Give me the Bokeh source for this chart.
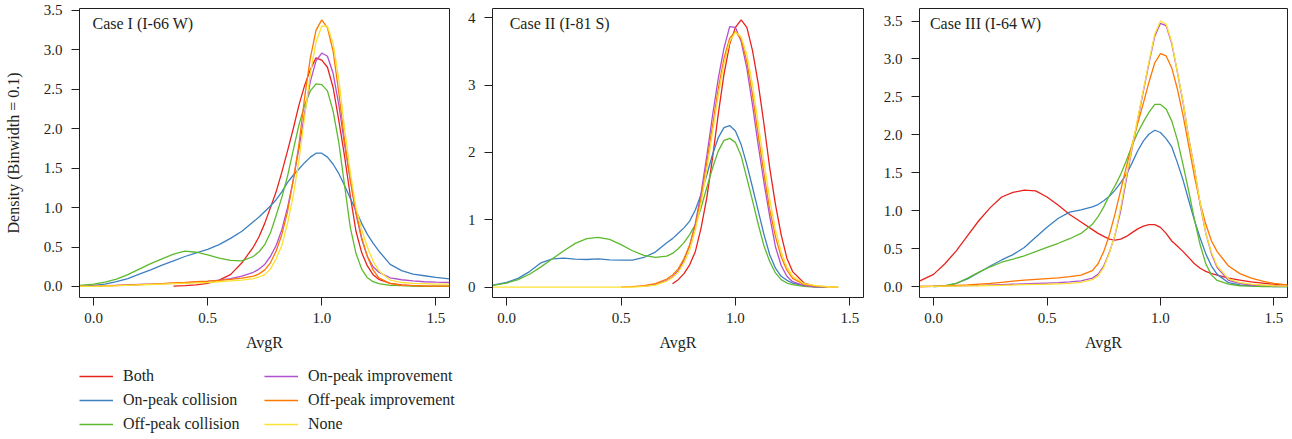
import numpy as np
from bokeh.plotting import figure
from bokeh.models import (Range1d, FixedTicker, PrintfTickFormatter, Label,
                          Legend, LegendItem, ColumnDataSource)
from bokeh.layouts import row, column
from bokeh.embed import file_html
from bokeh.resources import INLINE

N = None

# ---------------- data ----------------
AVGR = [-0.06, 0.0, 0.05, 0.1, 0.15, 0.2, 0.25, 0.3, 0.35, 0.4, 0.45, 0.5, 0.55, 0.6, 0.65, 0.7,
        0.725, 0.75, 0.775, 0.8, 0.825, 0.85, 0.875, 0.9, 0.925, 0.95, 0.975, 1.0, 1.025, 1.05, 1.075,
        1.1, 1.125, 1.15, 1.175, 1.2, 1.225, 1.25,
        1.3, 1.35, 1.4, 1.45, 1.5, 1.56]

SERIES = ["Both", "On-peak collision", "Off-peak collision",
          "On-peak improvement", "Off-peak improvement", "None"]
COLORS = ["#E8221C", "#3D80C1", "#5DB92E", "#B150CF", "#FF7700", "#FBE232"]

CASES = ["Case I (I-66 W)", "Case II (I-81 S)", "Case III (I-64 W)"]

# Case I
c1_both = [N, N, N, N, N, N, N, N, 0.005, 0.01, 0.02, 0.04, 0.08, 0.15, 0.3, 0.5,
           0.63, 0.8, 1.0, 1.2, 1.45, 1.72, 2.0, 2.3, 2.55, 2.75, 2.9, 2.87, 2.78, 2.52, 2.1, 1.65, 1.15, 0.7, 0.43, 0.26, 0.15, 0.09,
           0.04, 0.02, 0.01, 0.005, 0.0, 0.0]
c1_oncol = [0.0, 0.013, 0.03, 0.06, 0.1, 0.157, 0.21, 0.27, 0.325, 0.38, 0.425, 0.47, 0.53, 0.61, 0.7, 0.82,
            0.88, 0.95, 1.02, 1.1, 1.2, 1.32, 1.41, 1.49, 1.57, 1.64, 1.69, 1.69, 1.64, 1.55, 1.43, 1.28, 1.12, 0.96, 0.8, 0.66, 0.55, 0.45,
            0.28, 0.2, 0.157, 0.136, 0.114, 0.095]
c1_offcol = [0.015, 0.03, 0.055, 0.094, 0.15, 0.22, 0.29, 0.35, 0.41, 0.447, 0.434, 0.4, 0.36, 0.33, 0.325, 0.38,
             0.44, 0.53, 0.68, 0.9, 1.13, 1.4, 1.73, 2.05, 2.3, 2.48, 2.57, 2.56, 2.48, 2.22, 1.82, 1.28, 0.75, 0.42, 0.22, 0.11, 0.06, 0.035,
             0.015, 0.01, 0.005, 0.0, 0.0, 0.0]
c1_onimp = [0.0, 0.005, 0.01, 0.015, 0.02, 0.025, 0.03, 0.035, 0.04, 0.045, 0.055, 0.065, 0.08, 0.1, 0.13, 0.18,
            0.22, 0.28, 0.38, 0.52, 0.72, 1.0, 1.35, 1.75, 2.2, 2.6, 2.86, 2.96, 2.92, 2.7, 2.3, 1.8, 1.35, 0.92, 0.6, 0.38, 0.25, 0.18,
            0.11, 0.085, 0.07, 0.06, 0.055, 0.05]
c1_offimp = [0.0, 0.003, 0.008, 0.012, 0.018, 0.024, 0.03, 0.037, 0.045, 0.052, 0.06, 0.068, 0.078, 0.09, 0.105, 0.13,
             0.16, 0.21, 0.3, 0.45, 0.66, 0.95, 1.35, 1.8, 2.4, 2.9, 3.25, 3.38, 3.28, 2.98, 2.45, 1.85, 1.35, 0.95, 0.62, 0.38, 0.21, 0.11,
             0.035, 0.015, 0.01, 0.005, 0.005, 0.005]
c1_none = [0.0, 0.002, 0.006, 0.01, 0.015, 0.02, 0.025, 0.03, 0.035, 0.04, 0.045, 0.05, 0.06, 0.07, 0.08, 0.1,
           0.12, 0.15, 0.22, 0.35, 0.52, 0.8, 1.15, 1.6, 2.15, 2.7, 3.1, 3.3, 3.3, 3.08, 2.62, 2.0, 1.45, 1.0, 0.72, 0.5, 0.32, 0.2,
           0.08, 0.05, 0.04, 0.035, 0.03, 0.03]

# Case II
c2_both = [N, N, N, N, N, N, N, N, N, N, N, N, N, N, N, N,
           0.05, 0.11, 0.2, 0.33, 0.53, 0.88, 1.33, 1.92, 2.57, 3.16, 3.61, 3.86, 3.97, 3.86, 3.51, 3.02, 2.42, 1.77, 1.23, 0.78, 0.43, 0.23,
           0.06, 0.01, N, N, N, N]
c2_oncol = [0.03, 0.07, 0.13, 0.23, 0.36, 0.42, 0.43, 0.415, 0.41, 0.42, 0.405, 0.4, 0.4, 0.44, 0.52, 0.66,
            0.72, 0.8, 0.88, 0.98, 1.15, 1.38, 1.67, 1.97, 2.22, 2.37, 2.4, 2.32, 2.12, 1.82, 1.48, 1.13, 0.78, 0.48, 0.28, 0.16, 0.1, 0.06,
            0.02, 0.005, 0.0, N, N, N]
c2_offcol = [0.025, 0.06, 0.11, 0.19, 0.3, 0.42, 0.54, 0.65, 0.72, 0.74, 0.71, 0.63, 0.54, 0.47, 0.44, 0.46,
             0.5, 0.57, 0.66, 0.78, 0.93, 1.18, 1.48, 1.77, 2.02, 2.18, 2.21, 2.15, 1.95, 1.62, 1.28, 0.93, 0.61, 0.38, 0.21, 0.11, 0.06, 0.035,
             0.01, 0.0, 0.0, N, N, N]
c2_onimp = [N, N, N, N, N, N, N, N, N, N, N, N, N, 0.01, 0.04, 0.1,
            0.15, 0.24, 0.4, 0.62, 0.95, 1.4, 1.95, 2.55, 3.1, 3.55, 3.87, 3.86, 3.65, 3.25, 2.7, 2.1, 1.55, 1.05, 0.6, 0.32, 0.16, 0.08,
            0.02, 0.005, 0.0, N, N, N]
c2_offimp = [N, N, N, N, N, N, N, N, N, N, N, 0.0, 0.008, 0.02, 0.05, 0.12,
             0.18, 0.27, 0.42, 0.62, 0.92, 1.32, 1.85, 2.4, 2.95, 3.4, 3.7, 3.8, 3.68, 3.35, 2.85, 2.25, 1.68, 1.15, 0.75, 0.45, 0.25, 0.13,
             0.04, 0.015, 0.005, 0.0, N, N]
c2_none = [0.0, 0.0, 0.0, 0.0, 0.0, 0.0, 0.0, 0.0, 0.0, 0.0, 0.0, 0.0, 0.0, 0.01, 0.03, 0.09,
           0.14, 0.22, 0.36, 0.55, 0.85, 1.25, 1.75, 2.3, 2.85, 3.32, 3.65, 3.79, 3.72, 3.45, 3.0, 2.42, 1.85, 1.3, 0.85, 0.52, 0.3, 0.16,
           0.05, 0.02, 0.005, 0.0, N, N]

# Case III
c3_both = [0.075, 0.16, 0.3, 0.47, 0.67, 0.87, 1.04, 1.18, 1.24, 1.27, 1.26, 1.18, 1.07, 0.95, 0.85, 0.75,
           0.7, 0.66, 0.625, 0.61, 0.625, 0.66, 0.71, 0.76, 0.795, 0.815, 0.815, 0.78, 0.7, 0.6, 0.53, 0.46, 0.38, 0.3, 0.24, 0.2, 0.17, 0.15,
           0.11, 0.085, 0.06, 0.045, 0.03, 0.015]
c3_oncol = [N, 0.0, 0.005, 0.04, 0.1, 0.185, 0.27, 0.35, 0.42, 0.515, 0.65, 0.78, 0.9, 0.98, 1.01, 1.05,
            1.08, 1.13, 1.19, 1.27, 1.37, 1.48, 1.63, 1.79, 1.92, 2.01, 2.06, 2.03, 1.95, 1.84, 1.63, 1.4, 1.13, 0.87, 0.64, 0.43, 0.27, 0.16,
            0.05, 0.02, 0.01, 0.005, 0.0, 0.0]
c3_offcol = [N, 0.0, 0.01, 0.04, 0.11, 0.19, 0.26, 0.32, 0.36, 0.405, 0.46, 0.515, 0.57, 0.63, 0.7, 0.82,
             0.92, 1.05, 1.2, 1.33, 1.48, 1.66, 1.86, 2.03, 2.17, 2.3, 2.4, 2.4, 2.34, 2.18, 1.93, 1.6, 1.25, 0.88, 0.55, 0.3, 0.15, 0.08,
             0.03, 0.01, 0.005, 0.0, 0.0, 0.0]
c3_onimp = [0.0, 0.002, 0.005, 0.008, 0.012, 0.015, 0.02, 0.025, 0.03, 0.035, 0.04, 0.045, 0.05, 0.06, 0.075, 0.11,
            0.16, 0.27, 0.45, 0.68, 1.0, 1.42, 1.82, 2.2, 2.58, 2.95, 3.3, 3.47, 3.44, 3.2, 2.82, 2.42, 1.95, 1.55, 1.08, 0.7, 0.43, 0.25,
            0.08, 0.04, 0.02, 0.015, 0.01, 0.01]
c3_offimp = [0.0, 0.003, 0.008, 0.014, 0.02, 0.03, 0.04, 0.055, 0.07, 0.085, 0.095, 0.105, 0.115, 0.13, 0.15, 0.21,
             0.3, 0.46, 0.68, 0.96, 1.27, 1.58, 1.87, 2.15, 2.42, 2.7, 2.95, 3.07, 3.04, 2.88, 2.6, 2.25, 1.85, 1.45, 1.1, 0.82, 0.6, 0.46,
             0.27, 0.17, 0.11, 0.07, 0.04, 0.02]
c3_none = [0.0, 0.002, 0.004, 0.006, 0.008, 0.01, 0.013, 0.016, 0.02, 0.025, 0.028, 0.03, 0.035, 0.04, 0.055, 0.09,
           0.14, 0.25, 0.44, 0.69, 1.05, 1.46, 1.84, 2.22, 2.6, 2.97, 3.33, 3.5, 3.46, 3.22, 2.82, 2.44, 1.94, 1.55, 1.1, 0.7, 0.45, 0.27,
           0.1, 0.05, 0.03, 0.02, 0.01, 0.005]

CASE1 = [c1_both, c1_oncol, c1_offcol, c1_onimp, c1_offimp, c1_none]
CASE2 = [c2_both, c2_oncol, c2_offcol, c2_onimp, c2_offimp, c2_none]
CASE3 = [c3_both, c3_oncol, c3_offcol, c3_onimp, c3_offimp, c3_none]

X_TICKS = [0.0, 0.5, 1.0, 1.5]
Y_TICKS_1 = [0.0, 0.5, 1.0, 1.5, 2.0, 2.5, 3.0, 3.5]
Y_TICKS_2 = [0, 1, 2, 3, 4]
Y_TICKS_3 = [0.0, 0.5, 1.0, 1.5, 2.0, 2.5, 3.0, 3.5]

# ---------------- styling ----------------
FONT = "Liberation Serif"
TEXT = "#231f20"
FS_TICK = "15px"
FS = "16px"
TOP = 8
H = TOP + 289 + 62


def make_panel(values, title, title_xy, yr, yticks, yfmt, width, bl, br, ylabel=None):
    p = figure(width=width, height=H, x_range=Range1d(-0.062, 1.56), y_range=Range1d(*yr),
               output_backend="svg", toolbar_location=None,
               min_border_left=bl, min_border_right=br, min_border_top=TOP, min_border_bottom=62)
    p.grid.visible = False
    p.outline_line_color = TEXT
    p.outline_line_width = 1
    p.background_fill_color = "white"
    p.border_fill_color = "white"
    for ax in (p.xaxis[0], p.yaxis[0]):
        ax.axis_line_color = None
        ax.major_tick_out = 8
        ax.major_tick_in = 0
        ax.major_tick_line_color = TEXT
        ax.minor_tick_line_color = None
        ax.major_label_text_font = FONT
        ax.major_label_text_font_size = FS_TICK
        ax.major_label_text_color = TEXT
        ax.axis_label_text_font = FONT
        ax.axis_label_text_font_size = FS
        ax.axis_label_text_color = TEXT
        ax.axis_label_text_font_style = "normal"
    p.xaxis.ticker = FixedTicker(ticks=X_TICKS)
    p.xaxis.formatter = PrintfTickFormatter(format="%.1f")
    p.xaxis.major_label_standoff = 7
    p.xaxis.axis_label = "AvgR"
    p.xaxis.axis_label_standoff = 8
    p.yaxis.ticker = FixedTicker(ticks=yticks)
    p.yaxis.formatter = PrintfTickFormatter(format=yfmt)
    p.yaxis.major_label_standoff = 9
    if ylabel:
        p.yaxis.axis_label = ylabel
        p.yaxis.axis_label_standoff = 19
    x = np.array(AVGR, dtype=float)
    for vals, col in zip(values, COLORS):
        y = np.array([np.nan if v is None else v for v in vals], dtype=float)
        p.line(x, y, line_color=col, line_width=1.3)
    p.add_layout(Label(x=title_xy[0], y=title_xy[1], text=title, text_font=FONT,
                       text_font_size=FS, text_color=TEXT, text_baseline="middle",
                       text_align="left"))
    return p


p1 = make_panel(CASE1, CASES[0], (-0.005, 3.334), (-0.14, 3.525), Y_TICKS_1, "%.1f",
                452, 79, 3, ylabel="Density (Binwidth = 0.1)")
p2 = make_panel(CASE2, CASES[1], (0.013, 3.91), (-0.155, 4.14), Y_TICKS_2, "%d",
                428, 40, 17)
p3 = make_panel(CASE3, CASES[2], (-0.016, 3.466), (-0.145, 3.665), Y_TICKS_3, "%.1f",
                408, 37, 1)

# legend panel (lines drawn off-range so only the legend shows them)
p4 = figure(width=480, height=78, x_range=Range1d(0, 1), y_range=Range1d(0, 1),
            x_axis_type=None, y_axis_type=None, output_backend="svg", toolbar_location=None,
            min_border=0)
p4.grid.visible = False
p4.outline_line_color = None
rends = []
for col in COLORS:
    src = ColumnDataSource(data=dict(x=[-10.0, -9.0], y=[-10.0, -9.0]))
    rends.append(p4.line("x", "y", source=src, line_color=col, line_width=1.3))


def make_legend(idx, loc):
    leg = Legend(items=[LegendItem(label=SERIES[i], renderers=[rends[i]]) for i in idx],
                 location=loc, orientation="vertical",
                 border_line_color=None, background_fill_alpha=0.0,
                 padding=0, margin=0, spacing=4,
                 glyph_width=34, glyph_height=20, label_height=20, label_standoff=10,
                 label_text_font=FONT, label_text_font_size=FS, label_text_color=TEXT)
    return leg


p4.add_layout(make_legend([0, 1, 2], (79, 3)))
p4.add_layout(make_legend([3, 4, 5], (264, 3)))

layout = column(row(p1, p2, p3), p4)

open("out.html", "w").write(file_html(layout, INLINE))
